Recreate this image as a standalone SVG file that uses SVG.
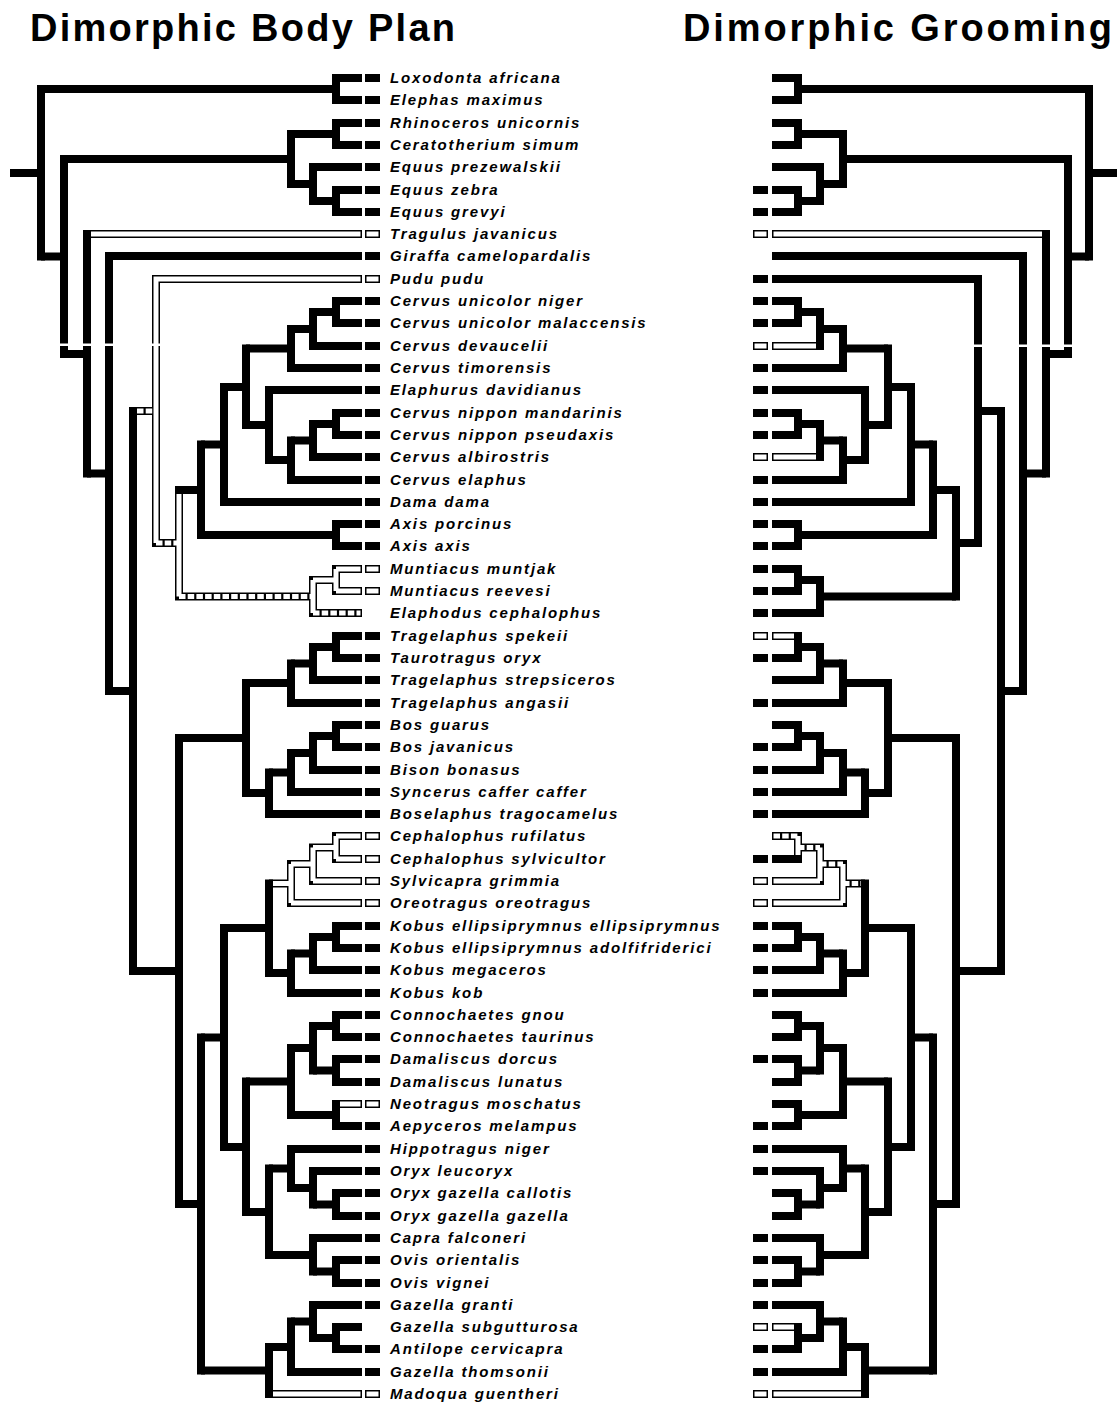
<svg xmlns="http://www.w3.org/2000/svg" width="1117" height="1403" viewBox="0 0 1117 1403">
<style>
.b{fill:none;stroke:#000;stroke-width:8;stroke-linejoin:miter}
.w{fill:none;stroke:#fff;stroke-width:5;stroke-linejoin:miter}
.h{fill:none;stroke:#fff;stroke-width:5;stroke-dasharray:6.5 2.2}
.sq{fill:#000}
.sqo{fill:#fff;stroke:#000;stroke-width:1.5}
.lbl{font-family:"Liberation Sans",Arial,sans-serif;font-weight:bold;font-style:italic;font-size:15px;letter-spacing:1.85px;fill:#000}
.ttl{font-family:"Liberation Sans",Arial,sans-serif;font-weight:bold;font-size:38px;fill:#000}
</style>
<rect width="1117" height="1403" fill="#fff"/>
<g id="titles">
<text class="ttl" x="30" y="41" textLength="425" lengthAdjust="spacing">Dimorphic Body Plan</text>
<text class="ttl" x="683" y="41" textLength="429" lengthAdjust="spacing">Dimorphic Grooming</text>
</g>
<g id="connectors">
<g id="left-tree">
<path class="b" d="M41 85V260.5M336 74V104M64 155V358M291 130V188M336 119V149M313 163V205M336 186V216M87 230V477.5M109 252V695M133 407V975M201 440.5V539M336 520V550M224 383V506M246 344.5V429M291 325V372M313 308V350M336 297V327M269 386V464M291 436.5V484M313 420V461M336 409V439M179 734V1208M246 679V797M291 659.5V707M313 643V684M336 632V662M269 768.5V818M291 749V796M313 732V774M336 721V751M201 1033.5V1374.5M224 924V1151M269 879.5V977M291 949.5V997M313 933V974M336 922V952M246 1077.5V1216M291 1044V1119M313 1022V1074.5M336 1011V1041M336 1055V1086M336 1100V1130M269 1164.5V1259M291 1145V1192M313 1167V1208.5M336 1189V1220M313 1234V1275.5M336 1256V1287M269 1343V1398M291 1317.5V1376M313 1301V1342M336 1323V1353"/>
<path class="b" d="M10 173H41M41 89H336M41 256.5H64M64 159H291M64 354H87M291 134H336M291 184H313M313 201H336M336 78H362M336 100H362M336 123H362M336 145H362M313 167H362M336 190H362M336 212H362M87 473.5H109M109 256H362M109 691H133M133 971H179M179 490H201M201 444.5H224M201 535H336M336 524H362M336 546H362M224 387H246M224 502H362M246 348.5H291M246 425H269M291 329H313M291 368H362M313 312H336M313 346H362M336 301H362M336 323H362M269 390H362M269 460H291M291 440.5H313M291 480H362M313 424H336M313 457H362M336 413H362M336 435H362M179 738H246M179 1204H201M246 683H291M246 793H269M291 663.5H313M291 703H362M313 647H336M313 680H362M336 636H362M336 658H362M269 772.5H291M269 814H362M291 753H313M291 792H362M313 736H336M313 770H362M336 725H362M336 747H362M201 1037.5H224M201 1370.5H269M224 928H269M224 1147H246M269 973H291M291 953.5H313M291 993H362M313 937H336M313 970H362M336 926H362M336 948H362M246 1081.5H291M246 1212H269M291 1048H313M291 1115H336M313 1026H336M313 1070.5H336M336 1015H362M336 1037H362M336 1059H362M336 1082H362M336 1126H362M269 1168.5H291M269 1255H313M291 1149H362M291 1188H313M313 1171H362M313 1204.5H336M336 1193H362M336 1216H362M313 1238H362M313 1271.5H336M336 1260H362M336 1283H362M269 1347H291M291 1321.5H313M291 1372H362M313 1305H362M313 1338H336M336 1327H362M336 1349H362"/>
<path class="b" d="M87 234H362M362 279H156V547M133 411H156M156 543H179M179 486V600.5M179 596.5H313M313 576V617M313 580H336M336 565V595M336 569H362M336 591H362M313 613H362M269 883.5H291M291 860V907M291 864H313M291 903H362M313 843.5V885M313 847.5H336M313 881H362M336 832V863M336 836H362M336 859H362M336 1104H362M269 1394H362"/>
<path class="w" d="M91 234H360.5M360.5 279H156V543M179 494V596.5M313 580V613M313 580H336M336 569V591M336 569H360.5M336 591H360.5M273 883.5H291M291 864V903M291 864H313M291 903H360.5M313 847.5V881M313 847.5H336M313 881H360.5M336 836V859M336 836H360.5M336 859H360.5M340 1104H360.5M273 1394H360.5"/>
<path class="h" d="M137 411H156M156 543H179M179 596.5H313M313 613H360.5"/>
</g>
<g id="right-tree">
<path class="b" d="M1089 85V260.5M798 74V104M1068 155V358M843 130V188M798 119V149M820 163V205M798 186V216M1046 230V477.5M1023 252V695M1001 407V975M978 275V547M956 486V600.5M933 440.5V539M798 520V550M911 383V506M888 344.5V429M843 325V372M820 308V350M798 297V327M865 386V464M843 436.5V484M820 420V461M798 409V439M820 576V617M798 565V595M956 734V1208M888 679V797M843 659.5V707M820 643V684M798 632V662M865 768.5V818M843 749V796M820 732V774M798 721V751M933 1033.5V1374.5M911 924V1151M865 879.5V977M843 949.5V997M820 933V974M798 922V952M888 1077.5V1216M843 1044V1119M820 1022V1074.5M798 1011V1041M798 1055V1086M798 1100V1130M865 1164.5V1259M843 1145V1192M820 1167V1208.5M798 1189V1220M820 1234V1275.5M798 1256V1287M865 1343V1398M843 1317.5V1376M820 1301V1342M798 1323V1353"/>
<path class="b" d="M1089 173H1117M1089 89H798M1089 256.5H1068M1068 159H843M1068 354H1046M843 134H798M843 184H820M820 201H798M798 78H772M798 100H772M798 123H772M798 145H772M820 167H772M798 190H772M798 212H772M1046 473.5H1023M1023 256H772M1023 691H1001M1001 411H978M1001 971H956M978 279H772M978 543H956M956 490H933M956 596.5H820M933 444.5H911M933 535H798M798 524H772M798 546H772M911 387H888M911 502H772M888 348.5H843M888 425H865M843 329H820M843 368H772M820 312H798M798 301H772M798 323H772M865 390H772M865 460H843M843 440.5H820M843 480H772M820 424H798M798 413H772M798 435H772M820 580H798M798 569H772M798 591H772M820 613H772M956 738H888M956 1204H933M888 683H843M888 793H865M843 663.5H820M843 703H772M820 647H798M820 680H772M798 658H772M865 772.5H843M865 814H772M843 753H820M843 792H772M820 736H798M820 770H772M798 725H772M798 747H772M933 1037.5H911M933 1370.5H865M911 928H865M911 1147H888M865 973H843M843 953.5H820M843 993H772M820 937H798M820 970H772M798 926H772M798 948H772M888 1081.5H843M888 1212H865M843 1048H820M843 1115H798M820 1026H798M820 1070.5H798M798 1015H772M798 1037H772M798 1059H772M798 1082H772M798 1104H772M798 1126H772M865 1168.5H843M865 1255H820M843 1149H772M843 1188H820M820 1171H772M820 1204.5H798M798 1193H772M798 1216H772M820 1238H772M820 1271.5H798M798 1260H772M798 1283H772M865 1347H843M843 1321.5H820M843 1372H772M820 1305H772M820 1338H798M798 1349H772M798 859H772"/>
<path class="b" d="M1046 234H772M820 346H772M820 457H772M798 636H772M798 836H772M798 832V863M820 847.5H798M820 843.5V885M820 881H772M843 864H820M843 860V907M843 903H772M865 883.5H843M798 1327H772M865 1394H772"/>
<path class="w" d="M1042 234H773.5M816 346H773.5M816 457H773.5M794 636H773.5M798 836V855M820 847.5V881M820 881H773.5M843 864V903M843 903H773.5M794 1327H773.5M861 1394H773.5"/>
<path class="h" d="M773.5 836H798M798 847.5H820M820 864H843M843 883.5H861"/>
</g>
<g id="scan-gaps">
<rect x="55" y="343.5" width="110" height="2.5" fill="#fff"/>
<rect x="965" y="344.5" width="115" height="2.5" fill="#fff"/>
</g>
</g>
<g id="taxa">
<g id="t01"><rect class="sq" x="365" y="74" width="15" height="8"/><text class="lbl" x="390" y="83">Loxodonta africana</text></g>
<g id="t02"><rect class="sq" x="365" y="96" width="15" height="8"/><text class="lbl" x="390" y="105">Elephas maximus</text></g>
<g id="t03"><rect class="sq" x="365" y="119" width="15" height="8"/><text class="lbl" x="390" y="128">Rhinoceros unicornis</text></g>
<g id="t04"><rect class="sq" x="365" y="141" width="15" height="8"/><text class="lbl" x="390" y="150">Ceratotherium simum</text></g>
<g id="t05"><rect class="sq" x="365" y="163" width="15" height="8"/><text class="lbl" x="390" y="172">Equus prezewalskii</text></g>
<g id="t06"><rect class="sq" x="365" y="186" width="15" height="8"/><text class="lbl" x="390" y="195">Equus zebra</text><rect class="sq" x="753" y="186" width="15" height="8"/></g>
<g id="t07"><rect class="sq" x="365" y="208" width="15" height="8"/><text class="lbl" x="390" y="217">Equus grevyi</text><rect class="sq" x="753" y="208" width="15" height="8"/></g>
<g id="t08"><rect class="sqo" x="365.75" y="230.75" width="13.5" height="6.5"/><text class="lbl" x="390" y="239">Tragulus javanicus</text><rect class="sqo" x="753.75" y="230.75" width="13.5" height="6.5"/></g>
<g id="t09"><rect class="sq" x="365" y="252" width="15" height="8"/><text class="lbl" x="390" y="261">Giraffa camelopardalis</text></g>
<g id="t10"><rect class="sqo" x="365.75" y="275.75" width="13.5" height="6.5"/><text class="lbl" x="390" y="284">Pudu pudu</text><rect class="sq" x="753" y="275" width="15" height="8"/></g>
<g id="t11"><rect class="sq" x="365" y="297" width="15" height="8"/><text class="lbl" x="390" y="306">Cervus unicolor niger</text><rect class="sq" x="753" y="297" width="15" height="8"/></g>
<g id="t12"><rect class="sq" x="365" y="319" width="15" height="8"/><text class="lbl" x="390" y="328">Cervus unicolor malaccensis</text><rect class="sq" x="753" y="319" width="15" height="8"/></g>
<g id="t13"><rect class="sq" x="365" y="342" width="15" height="8"/><text class="lbl" x="390" y="351">Cervus devaucelii</text><rect class="sqo" x="753.75" y="342.75" width="13.5" height="6.5"/></g>
<g id="t14"><rect class="sq" x="365" y="364" width="15" height="8"/><text class="lbl" x="390" y="373">Cervus timorensis</text><rect class="sq" x="753" y="364" width="15" height="8"/></g>
<g id="t15"><rect class="sq" x="365" y="386" width="15" height="8"/><text class="lbl" x="390" y="395">Elaphurus davidianus</text><rect class="sq" x="753" y="386" width="15" height="8"/></g>
<g id="t16"><rect class="sq" x="365" y="409" width="15" height="8"/><text class="lbl" x="390" y="418">Cervus nippon mandarinis</text><rect class="sq" x="753" y="409" width="15" height="8"/></g>
<g id="t17"><rect class="sq" x="365" y="431" width="15" height="8"/><text class="lbl" x="390" y="440">Cervus nippon pseudaxis</text><rect class="sq" x="753" y="431" width="15" height="8"/></g>
<g id="t18"><rect class="sq" x="365" y="453" width="15" height="8"/><text class="lbl" x="390" y="462">Cervus albirostris</text><rect class="sqo" x="753.75" y="453.75" width="13.5" height="6.5"/></g>
<g id="t19"><rect class="sq" x="365" y="476" width="15" height="8"/><text class="lbl" x="390" y="485">Cervus elaphus</text><rect class="sq" x="753" y="476" width="15" height="8"/></g>
<g id="t20"><rect class="sq" x="365" y="498" width="15" height="8"/><text class="lbl" x="390" y="507">Dama dama</text><rect class="sq" x="753" y="498" width="15" height="8"/></g>
<g id="t21"><rect class="sq" x="365" y="520" width="15" height="8"/><text class="lbl" x="390" y="529">Axis porcinus</text><rect class="sq" x="753" y="520" width="15" height="8"/></g>
<g id="t22"><rect class="sq" x="365" y="542" width="15" height="8"/><text class="lbl" x="390" y="551">Axis axis</text><rect class="sq" x="753" y="542" width="15" height="8"/></g>
<g id="t23"><rect class="sqo" x="365.75" y="565.75" width="13.5" height="6.5"/><text class="lbl" x="390" y="574">Muntiacus muntjak</text><rect class="sq" x="753" y="565" width="15" height="8"/></g>
<g id="t24"><rect class="sqo" x="365.75" y="587.75" width="13.5" height="6.5"/><text class="lbl" x="390" y="596">Muntiacus reevesi</text><rect class="sq" x="753" y="587" width="15" height="8"/></g>
<g id="t25"><text class="lbl" x="390" y="618">Elaphodus cephalophus</text><rect class="sq" x="753" y="609" width="15" height="8"/></g>
<g id="t26"><rect class="sq" x="365" y="632" width="15" height="8"/><text class="lbl" x="390" y="641">Tragelaphus spekeii</text><rect class="sqo" x="753.75" y="632.75" width="13.5" height="6.5"/></g>
<g id="t27"><rect class="sq" x="365" y="654" width="15" height="8"/><text class="lbl" x="390" y="663">Taurotragus oryx</text><rect class="sq" x="753" y="654" width="15" height="8"/></g>
<g id="t28"><rect class="sq" x="365" y="676" width="15" height="8"/><text class="lbl" x="390" y="685">Tragelaphus strepsiceros</text></g>
<g id="t29"><rect class="sq" x="365" y="699" width="15" height="8"/><text class="lbl" x="390" y="708">Tragelaphus angasii</text><rect class="sq" x="753" y="699" width="15" height="8"/></g>
<g id="t30"><rect class="sq" x="365" y="721" width="15" height="8"/><text class="lbl" x="390" y="730">Bos guarus</text></g>
<g id="t31"><rect class="sq" x="365" y="743" width="15" height="8"/><text class="lbl" x="390" y="752">Bos javanicus</text><rect class="sq" x="753" y="743" width="15" height="8"/></g>
<g id="t32"><rect class="sq" x="365" y="766" width="15" height="8"/><text class="lbl" x="390" y="775">Bison bonasus</text><rect class="sq" x="753" y="766" width="15" height="8"/></g>
<g id="t33"><rect class="sq" x="365" y="788" width="15" height="8"/><text class="lbl" x="390" y="797">Syncerus caffer caffer</text><rect class="sq" x="753" y="788" width="15" height="8"/></g>
<g id="t34"><rect class="sq" x="365" y="810" width="15" height="8"/><text class="lbl" x="390" y="819">Boselaphus tragocamelus</text><rect class="sq" x="753" y="810" width="15" height="8"/></g>
<g id="t35"><rect class="sqo" x="365.75" y="832.75" width="13.5" height="6.5"/><text class="lbl" x="390" y="841">Cephalophus rufilatus</text></g>
<g id="t36"><rect class="sqo" x="365.75" y="855.75" width="13.5" height="6.5"/><text class="lbl" x="390" y="864">Cephalophus sylvicultor</text><rect class="sq" x="753" y="855" width="15" height="8"/></g>
<g id="t37"><rect class="sqo" x="365.75" y="877.75" width="13.5" height="6.5"/><text class="lbl" x="390" y="886">Sylvicapra grimmia</text><rect class="sqo" x="753.75" y="877.75" width="13.5" height="6.5"/></g>
<g id="t38"><rect class="sqo" x="365.75" y="899.75" width="13.5" height="6.5"/><text class="lbl" x="390" y="908">Oreotragus oreotragus</text><rect class="sqo" x="753.75" y="899.75" width="13.5" height="6.5"/></g>
<g id="t39"><rect class="sq" x="365" y="922" width="15" height="8"/><text class="lbl" x="390" y="931">Kobus ellipsiprymnus ellipsiprymnus</text><rect class="sq" x="753" y="922" width="15" height="8"/></g>
<g id="t40"><rect class="sq" x="365" y="944" width="15" height="8"/><text class="lbl" x="390" y="953">Kobus ellipsiprymnus adolfifriderici</text><rect class="sq" x="753" y="944" width="15" height="8"/></g>
<g id="t41"><rect class="sq" x="365" y="966" width="15" height="8"/><text class="lbl" x="390" y="975">Kobus megaceros</text><rect class="sq" x="753" y="966" width="15" height="8"/></g>
<g id="t42"><rect class="sq" x="365" y="989" width="15" height="8"/><text class="lbl" x="390" y="998">Kobus kob</text><rect class="sq" x="753" y="989" width="15" height="8"/></g>
<g id="t43"><rect class="sq" x="365" y="1011" width="15" height="8"/><text class="lbl" x="390" y="1020">Connochaetes gnou</text></g>
<g id="t44"><rect class="sq" x="365" y="1033" width="15" height="8"/><text class="lbl" x="390" y="1042">Connochaetes taurinus</text></g>
<g id="t45"><rect class="sq" x="365" y="1055" width="15" height="8"/><text class="lbl" x="390" y="1064">Damaliscus dorcus</text><rect class="sq" x="753" y="1055" width="15" height="8"/></g>
<g id="t46"><rect class="sq" x="365" y="1078" width="15" height="8"/><text class="lbl" x="390" y="1087">Damaliscus lunatus</text></g>
<g id="t47"><rect class="sqo" x="365.75" y="1100.75" width="13.5" height="6.5"/><text class="lbl" x="390" y="1109">Neotragus moschatus</text></g>
<g id="t48"><rect class="sq" x="365" y="1122" width="15" height="8"/><text class="lbl" x="390" y="1131">Aepyceros melampus</text><rect class="sq" x="753" y="1122" width="15" height="8"/></g>
<g id="t49"><rect class="sq" x="365" y="1145" width="15" height="8"/><text class="lbl" x="390" y="1154">Hippotragus niger</text><rect class="sq" x="753" y="1145" width="15" height="8"/></g>
<g id="t50"><rect class="sq" x="365" y="1167" width="15" height="8"/><text class="lbl" x="390" y="1176">Oryx leucoryx</text><rect class="sq" x="753" y="1167" width="15" height="8"/></g>
<g id="t51"><rect class="sq" x="365" y="1189" width="15" height="8"/><text class="lbl" x="390" y="1198">Oryx gazella callotis</text></g>
<g id="t52"><rect class="sq" x="365" y="1212" width="15" height="8"/><text class="lbl" x="390" y="1221">Oryx gazella gazella</text></g>
<g id="t53"><rect class="sq" x="365" y="1234" width="15" height="8"/><text class="lbl" x="390" y="1243">Capra falconeri</text><rect class="sq" x="753" y="1234" width="15" height="8"/></g>
<g id="t54"><rect class="sq" x="365" y="1256" width="15" height="8"/><text class="lbl" x="390" y="1265">Ovis orientalis</text><rect class="sq" x="753" y="1256" width="15" height="8"/></g>
<g id="t55"><rect class="sq" x="365" y="1279" width="15" height="8"/><text class="lbl" x="390" y="1288">Ovis vignei</text><rect class="sq" x="753" y="1279" width="15" height="8"/></g>
<g id="t56"><rect class="sq" x="365" y="1301" width="15" height="8"/><text class="lbl" x="390" y="1310">Gazella granti</text><rect class="sq" x="753" y="1301" width="15" height="8"/></g>
<g id="t57"><text class="lbl" x="390" y="1332">Gazella subgutturosa</text><rect class="sqo" x="753.75" y="1323.75" width="13.5" height="6.5"/></g>
<g id="t58"><rect class="sq" x="365" y="1345" width="15" height="8"/><text class="lbl" x="390" y="1354">Antilope cervicapra</text><rect class="sq" x="753" y="1345" width="15" height="8"/></g>
<g id="t59"><rect class="sq" x="365" y="1368" width="15" height="8"/><text class="lbl" x="390" y="1377">Gazella thomsonii</text><rect class="sq" x="753" y="1368" width="15" height="8"/></g>
<g id="t60"><rect class="sqo" x="365.75" y="1390.75" width="13.5" height="6.5"/><text class="lbl" x="390" y="1399">Madoqua guentheri</text><rect class="sqo" x="753.75" y="1390.75" width="13.5" height="6.5"/></g>
</g>
</svg>
